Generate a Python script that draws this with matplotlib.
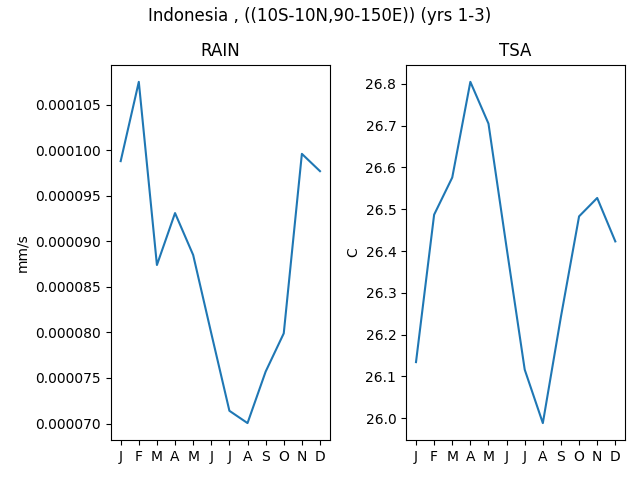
import numpy as np
import matplotlib
matplotlib.use('Agg')
import matplotlib.pyplot as plt

months = ['J', 'F', 'M', 'A', 'M', 'J', 'J', 'A', 'S', 'O', 'N', 'D']

# monthly climatology, Indonesia box, yrs 1-3
rain = [98.8e-6, 107.5e-6, 87.4e-6, 93.1e-6, 88.5e-6, 79.9e-6,
        71.4e-6, 70.05e-6, 75.7e-6, 79.9e-6, 99.6e-6, 97.7e-6]
tsa = [26.134, 26.487, 26.576, 26.805, 26.705, 26.408,
       26.116, 25.988, 26.243, 26.483, 26.527, 26.423]

fig, (ax1, ax2) = plt.subplots(1, 2, figsize=(6.4, 4.8), dpi=100)
fig.suptitle('Indonesia , ((10S-10N,90-150E)) (yrs 1-3)', y=0.985)

x = np.arange(len(months))

ax1.plot(x, rain)
ax1.set_title('RAIN')
ax1.set_ylabel('mm/s')
ax1.set_xticks(x)
ax1.set_xticklabels(months)

ax2.plot(x, tsa)
ax2.set_title('TSA')
ax2.set_ylabel('C')
ax2.set_xticks(x)
ax2.set_xticklabels(months)

plt.subplots_adjust(left=0.173, right=0.977, top=0.865, bottom=0.083, wspace=0.347)
plt.savefig('out.png')
